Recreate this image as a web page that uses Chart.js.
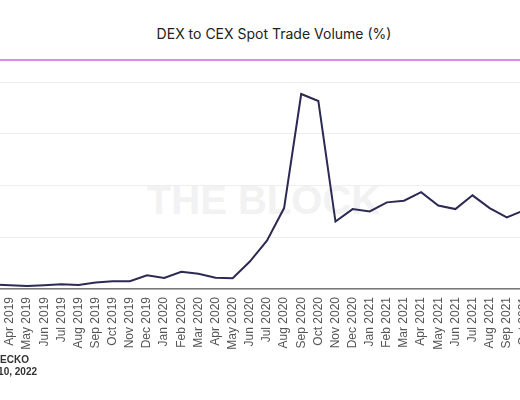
<!DOCTYPE html>
<html>
<head>
<meta charset="utf-8">
<script src="https://cdn.jsdelivr.net/npm/chart.js@4.4.1/dist/chart.umd.min.js"></script>
<style>
  html, body { margin: 0; padding: 0; background: #fff; }
  body { width: 520px; height: 400px; position: relative; overflow: hidden; }
  #title {
    position: absolute; left: 0; width: 548px; top: 25px; text-align: center;
    font: 14px Inter, "Open Sans", sans-serif; color: #222;
  }
  #rule { position: absolute; left: 0; right: 0; top: 59px; height: 2px; background: #dc8fe8; }
  #mark {
    position: absolute; left: 0; width: 527px; top: 178px; text-align: center;
    font: bold 40px "Liberation Sans", Arial, sans-serif; color: #f2f2f2;
  }
  #wrap { position: absolute; left: -100px; top: 0; width: 700px; height: 400px; }
  .foot {
    position: absolute; right: 491px; white-space: nowrap; text-align: right;
    font: bold 10px "Liberation Sans", Arial, sans-serif; color: #333;
  }
</style>
</head>
<body>
<div id="title">DEX to CEX Spot Trade Volume (%)</div>
<div id="rule"></div>
<div id="mark">THE BLOCK</div>
<div id="wrap"><canvas id="dexCex"></canvas></div>
<div class="foot" style="top:354px">Source: COINGECKO</div>
<div class="foot" style="top:366px; right:483px">Date: Feb 10, 2022</div>
<script>
const months = [
  'Jan 2019','Feb 2019','Mar 2019','Apr 2019','May 2019','Jun 2019','Jul 2019','Aug 2019',
  'Sep 2019','Oct 2019','Nov 2019','Dec 2019','Jan 2020','Feb 2020','Mar 2020','Apr 2020',
  'May 2020','Jun 2020','Jul 2020','Aug 2020','Sep 2020','Oct 2020','Nov 2020','Dec 2020',
  'Jan 2021','Feb 2021','Mar 2021','Apr 2021','May 2021','Jun 2021','Jul 2021','Aug 2021',
  'Sep 2021','Oct 2021','Nov 2021','Dec 2021','Jan 2022'
];
// DEX volume as % of CEX spot volume
const dexShare = [
  0.40, 0.42, 0.43, 0.37, 0.29, 0.36, 0.46, 0.39,
  0.62, 0.75, 0.75, 1.33, 1.07, 1.67, 1.48, 1.09,
  1.04, 2.65, 4.67, 7.82, 18.84, 18.16, 6.52, 7.72,
  7.49, 8.37, 8.53, 9.36, 8.07, 7.72, 9.05, 7.82,
  6.91, 7.60, 8.20, 8.40, 7.60
];
const yTicks = [0, 5, 10, 15, 20];

const ctx = document.getElementById('dexCex');
new Chart(ctx, {
  type: 'line',
  data: {
    labels: months,
    datasets: [{
      label: 'DEX to CEX',
      data: dexShare,
      borderColor: '#2c2a52',
      borderWidth: 2,
      pointRadius: 0,
      tension: 0,
      fill: false
    }]
  },
  options: {
    responsive: true,
    maintainAspectRatio: false,
    animation: false,
    layout: { padding: { top: 82, left: 18.6, right: 24.7, bottom: 51 } },
    plugins: { legend: { display: false }, tooltip: { enabled: false } },
    scales: {
      x: {
        grid: { display: false, drawTicks: false },
        border: { color: '#777', width: 1.5 },
        ticks: {
          autoSkip: false, maxRotation: 90, minRotation: 90, padding: 8,
          color: '#555', font: { family: '"Liberation Sans", Arial', size: 12 }
        },
        afterFit: s => { s.height = 60; }
      },
      y: {
        min: 0, max: 20,
        afterBuildTicks: s => { s.ticks = yTicks.map(v => ({ value: v })); },
        grid: { color: '#eeeeee', drawTicks: false },
        border: { display: false },
        ticks: { color: '#555', padding: 6, font: { family: '"Liberation Sans", Arial', size: 11 } },
        afterFit: s => { s.width = 40; }
      }
    }
  }
});
</script>
</body>
</html>
